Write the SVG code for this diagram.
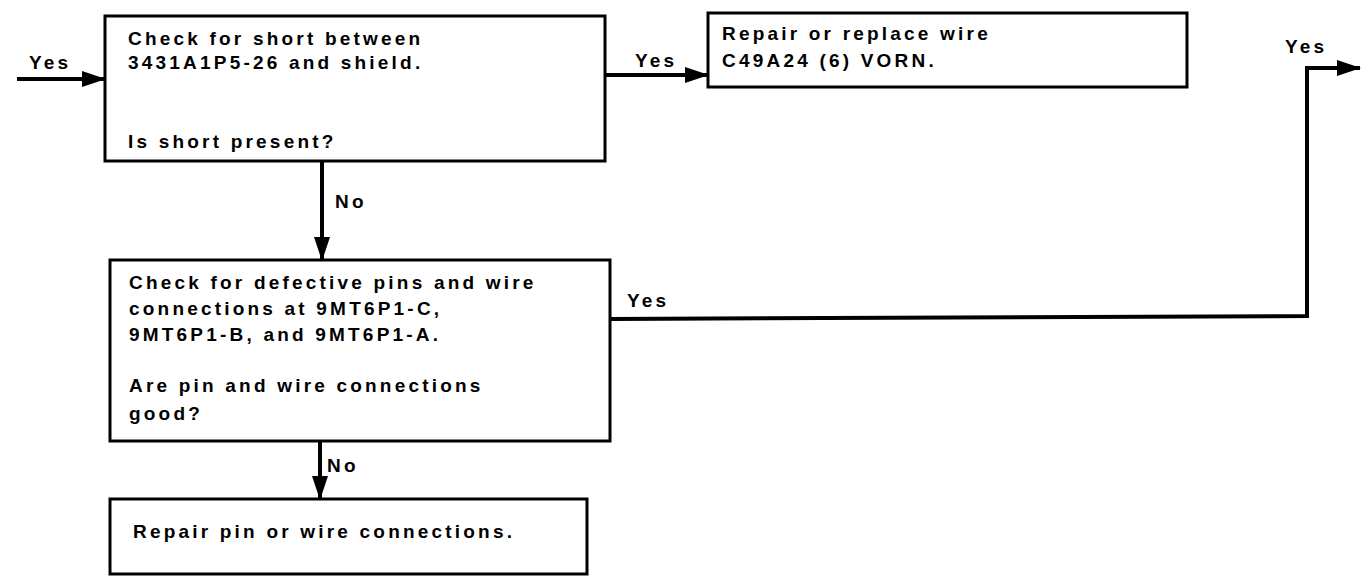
<svg xmlns="http://www.w3.org/2000/svg" width="1368" height="579" viewBox="0 0 1368 579">
<style>
.box{fill:#fff;stroke:#000;stroke-width:3}
.t{font-family:"Liberation Sans",Arial,sans-serif;font-weight:bold;font-size:19px;letter-spacing:3.2px;fill:#000}
.c{fill:none;stroke:#000;stroke-width:4;stroke-linejoin:miter}
</style>
<defs>
<marker id="ah" markerUnits="userSpaceOnUse" markerWidth="24" markerHeight="16" refX="23" refY="8" orient="auto">
<path d="M0,0 L24,8 L0,16 Z" fill="#000"/>
</marker>
</defs>
<rect width="1368" height="579" fill="#fff"/>
<g id="n1">
<rect class="box" x="105" y="16" width="500" height="145"/>
<text class="t" x="128" y="45">Check for short between</text>
<text class="t" x="128" y="69">3431A1P5-26 and shield.</text>
<text class="t" x="128" y="148">Is short present?</text>
</g>
<g id="n2">
<rect class="box" x="708" y="13" width="479" height="74"/>
<text class="t" x="722" y="40">Repair or replace wire</text>
<text class="t" x="722" y="67">C49A24 (6) VORN.</text>
</g>
<g id="n3">
<rect class="box" x="110" y="260" width="500" height="181"/>
<text class="t" x="129" y="289">Check for defective pins and wire</text>
<text class="t" x="129" y="315">connections at 9MT6P1-C,</text>
<text class="t" x="129" y="341">9MT6P1-B, and 9MT6P1-A.</text>
<text class="t" x="129" y="392">Are pin and wire connections</text>
<text class="t" x="129" y="420">good?</text>
</g>
<g id="n4">
<rect class="box" x="110" y="499" width="477" height="75"/>
<text class="t" x="133" y="538">Repair pin or wire connections.</text>
</g>
<g id="connectors">
<line class="c" x1="17" y1="79" x2="105" y2="79" marker-end="url(#ah)"/>
<text class="t" x="29" y="69">Yes</text>
<line class="c" x1="605" y1="75" x2="708" y2="75" marker-end="url(#ah)"/>
<text class="t" x="635" y="67">Yes</text>
<line class="c" x1="322" y1="161" x2="322" y2="260" marker-end="url(#ah)"/>
<text class="t" x="335" y="208">No</text>
<polyline class="c" points="610,319 1307,316 1307,68 1360,68" marker-end="url(#ah)"/>
<text class="t" x="627" y="307">Yes</text>
<text class="t" x="1285" y="53">Yes</text>
<line class="c" x1="320" y1="441" x2="320" y2="499" marker-end="url(#ah)"/>
<text class="t" x="327" y="472">No</text>
</g>
</svg>
